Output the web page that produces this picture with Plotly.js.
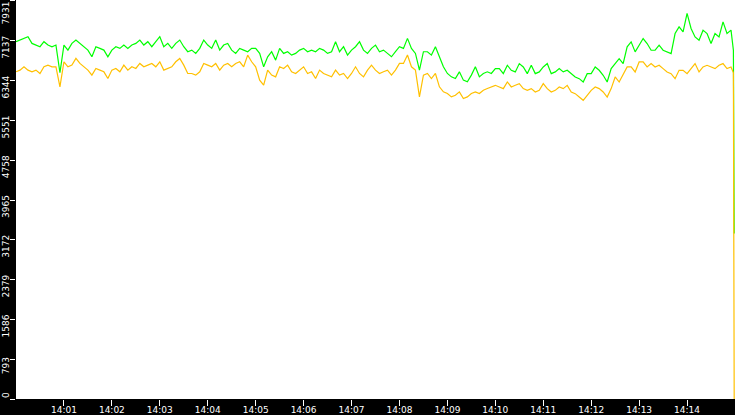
<!DOCTYPE html>
<html>
<head>
<meta charset="utf-8">
<script src="https://cdn.plot.ly/plotly-3.0.1.min.js"></script>
<style>
  html, body { margin: 0; padding: 0; background: #000; }
  #chart { width: 735px; height: 415px; }
</style>
</head>
<body>
<div id="chart"></div>
<script>
// samples every 5 seconds starting 14:00:00, then the last two seconds before the feed drops
const day = '2024-01-01';
const startSec = 14 * 3600;
const stepSec = 5;

const greenVals = [
  7119,7152,7185,7219,7085,7052,7019,7119,7052,7019,7052,6500,7052,6952,7085,7152,7085,7019,6952,6819,7019,6986,6952,6819,6952,7019,6986,7052,6986,7052,
  7085,7152,7052,7119,7019,7119,7219,7019,7085,6986,7085,7152,7019,6919,6952,6886,6986,7152,7052,6986,7152,6952,7052,7085,6952,6886,6986,6952,6919,6986,
  6986,6886,6619,6819,6919,6752,6986,6886,6919,6852,6886,6952,6986,6919,6952,6919,6986,6952,6886,6919,7119,6919,7019,6852,6952,7019,7119,6952,6886,6986,
  7052,6919,6952,6886,6819,6919,7019,6986,7185,6986,6886,6553,6919,6919,6852,7019,6819,6619,6486,6419,6386,6519,6353,6319,6453,6619,6419,6486,6519,6486,
  6583,6583,6483,6650,6550,6517,6683,6616,6483,6650,6483,6517,6616,6683,6483,6517,6583,6517,6550,6483,6417,6383,6317,6483,6483,6616,6550,6450,6317,6583,
  6683,6782,6683,7016,7116,6916,7049,7182,7082,6949,6949,7049,6949,6916,6882,7282,7415,7315,7682,7382,7215,7149,7349,7282,7082,7282,7215,7515,7282,7349
];

const orangeVals = [
  6519,6553,6619,6553,6519,6553,6486,6619,6652,6619,6619,6220,6719,6619,6652,6786,6686,6619,6553,6453,6586,6553,6519,6386,6553,6586,6519,6652,6553,6619,
  6586,6686,6619,6652,6686,6619,6719,6553,6586,6619,6719,6786,6652,6486,6486,6453,6519,6686,6652,6619,6686,6553,6652,6686,6619,6686,6719,6619,6852,6719,
  6619,6353,6253,6553,6453,6419,6619,6586,6652,6519,6486,6553,6619,6486,6519,6386,6553,6486,6453,6419,6553,6453,6486,6386,6486,6619,6486,6419,6553,6652,
  6553,6486,6519,6553,6453,6553,6686,6686,6853,6619,6553,6020,6453,6486,6386,6486,6220,6120,6087,6020,6053,6120,5987,6020,6087,6120,6087,6153,6186,6220,
  6250,6217,6184,6317,6217,6250,6283,6184,6150,6184,6117,6150,6283,6184,6117,6150,6217,6184,6250,6117,6084,6017,5951,6050,6150,6217,6184,6117,6017,6184,
  6416,6316,6483,6616,6616,6516,6716,6716,6616,6683,6616,6649,6583,6516,6483,6383,6549,6549,6483,6583,6683,6516,6616,6649,6616,6583,6649,6683,6583,6616
];

// last reading before the drop, and the drop itself
const endTimes = ['14:14:58', '14:14:59'];
const greenEnd = [6950, 3300];
const orangeEnd = [6500, 0];

const timeTicks = ['14:01','14:02','14:03','14:04','14:05','14:06','14:07','14:08','14:09','14:10','14:11','14:12','14:13','14:14'];
const yTicks = [0, 793, 1586, 2379, 3172, 3965, 4758, 5551, 6344, 7137, 7931];

function pad(n) { return (n < 10 ? '0' : '') + n; }
function stamp(sec) {
  const h = Math.floor(sec / 3600), m = Math.floor(sec % 3600 / 60), s = sec % 60;
  return day + ' ' + pad(h) + ':' + pad(m) + ':' + pad(s);
}

const times = greenVals.map((_, i) => stamp(startSec + i * stepSec))
  .concat(endTimes.map(t => day + ' ' + t));

const labelFont = { family: 'DejaVu Sans', size: 9, color: '#ffffff' };

const green = {
  x: times, y: greenVals.concat(greenEnd),
  type: 'scatter', mode: 'lines',
  line: { color: '#00ff00', width: 1.2 },
  hoverinfo: 'skip'
};
const orange = {
  x: times, y: orangeVals.concat(orangeEnd),
  type: 'scatter', mode: 'lines',
  line: { color: '#ffc000', width: 1.2 },
  hoverinfo: 'skip'
};

// y labels are rotated and sit a bit below their tick, kept inside the strip at the ends
const yLabels = yTicks.map((v, i) => {
  const first = i === 0, last = i === yTicks.length - 1;
  return {
    xref: 'paper', yref: 'y', x: 0, y: v,
    text: String(v), textangle: -90,
    xanchor: 'right', xshift: -4,
    yanchor: first ? 'bottom' : (last ? 'top' : 'middle'),
    yshift: (first || last) ? 0 : -7,
    showarrow: false, borderpad: 0,
    font: labelFont
  };
});

const layout = {
  width: 735, height: 415,
  margin: { l: 16, r: 0, t: 0, b: 16 },
  paper_bgcolor: '#000000',
  plot_bgcolor: '#ffffff',
  showlegend: false,
  xaxis: {
    type: 'date',
    range: [stamp(startSec), stamp(startSec + 900)],
    tickvals: timeTicks.map(t => day + ' ' + t + ':00'),
    ticktext: timeTicks,
    ticks: 'outside', ticklen: 6, tickwidth: 1, tickcolor: '#ffffff',
    ticklabelstandoff: -4,
    tickfont: labelFont,
    showgrid: false, zeroline: false, showline: false
  },
  yaxis: {
    range: [0, 7950],
    tickvals: yTicks,
    showticklabels: false,
    ticks: 'outside', ticklen: 5, tickwidth: 1, tickcolor: '#ffffff',
    showgrid: false, zeroline: false, showline: false
  },
  annotations: yLabels
};

Plotly.newPlot('chart', [green, orange], layout, { staticPlot: true, displayModeBar: false });
</script>
</body>
</html>
